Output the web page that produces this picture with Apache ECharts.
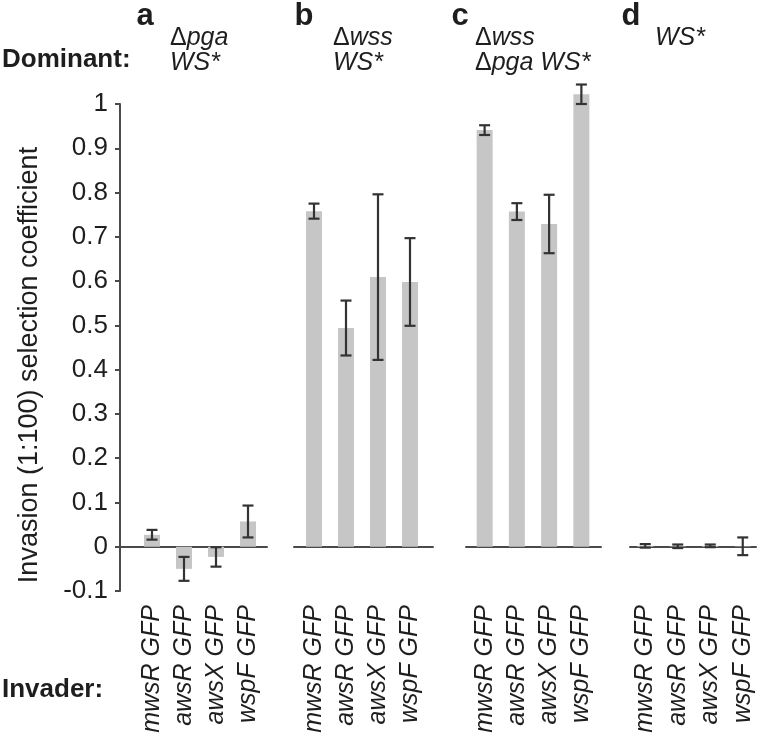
<!DOCTYPE html>
<html>
<head>
<meta charset="utf-8">
<script src="https://cdn.jsdelivr.net/npm/echarts@6/dist/echarts.min.js"></script>
<style>html,body{margin:0;padding:0;background:#fff;}#c{width:760px;height:741px;}</style>
</head>
<body>
<div id="c"></div>
<script>
// ---- data ----
const categories = ['mwsR GFP', 'awsR GFP', 'awsX GFP', 'wspF GFP'];
const panelNames = ['a', 'b', 'c', 'd'];
const meanA = [0.027, -0.050, -0.023, 0.057];
const errA  = [0.011, 0.027, 0.022, 0.036];
const meanB = [0.758, 0.494, 0.609, 0.598];
const errB  = [0.017, 0.062, 0.187, 0.099];
const meanC = [0.941, 0.757, 0.729, 1.022];
const errC  = [0.011, 0.019, 0.066, 0.022];
const meanD = [0.002, 0.001, 0.002, 0.001];
const errD  = [0.004, 0.004, 0.003, 0.020];
const yMin = -0.1, yMax = 1, yStep = 0.1;
const yTickLabels = ['-0.1', '0', '0.1', '0.2', '0.3', '0.4', '0.5', '0.6', '0.7', '0.8', '0.9', '1'];

const means = [meanA, meanB, meanC, meanD];
const errs = [errA, errB, errC, errD];

// ---- layout ----
const FONT = '"Liberation Sans", Arial, Helvetica, sans-serif';
const TOP = 104, BOTTOM = 150;
const layout = [
  { barLeft: 136,   barWidth: 128, lineLeft: 120, lineWidth: 147 },
  { barLeft: 298,   barWidth: 128, lineLeft: 294, lineWidth: 139 },
  { barLeft: 468.5, barWidth: 129, lineLeft: 466, lineWidth: 135 },
  { barLeft: 629,   barWidth: 130, lineLeft: 630, lineWidth: 126 }
];
const AXIS_COLOR = '#4a4a4a';
const TEXT_COLOR = '#1e1e1e';

const grid = [], xAxis = [], yAxis = [], series = [];

layout.forEach((L, p) => {
  // line grid (zero line, and y axis for the first panel)
  const gLine = grid.length;
  grid.push({ left: L.lineLeft, width: L.lineWidth, top: TOP, bottom: BOTTOM });
  xAxis.push({
    gridIndex: gLine, type: 'value', min: 0, max: 1,
    axisLine: { show: true, onZero: true, lineStyle: { color: AXIS_COLOR, width: 2 } },
    axisTick: { show: false }, axisLabel: { show: false }, splitLine: { show: false }
  });
  yAxis.push({
    gridIndex: gLine, type: 'value', min: yMin, max: yMax, interval: yStep,
    show: p === 0,
    axisLine: { show: true, lineStyle: { color: AXIS_COLOR, width: 2 } },
    axisTick: { show: true, inside: false, length: 5, lineStyle: { color: AXIS_COLOR, width: 2 } },
    axisLabel: {
      fontSize: 26, color: TEXT_COLOR, fontFamily: FONT, margin: 12,
      formatter: v => yTickLabels[Math.round((v - yMin) / yStep)]
    },
    splitLine: { show: false }
  });

  // bar grid
  const gBar = grid.length;
  grid.push({ left: L.barLeft, width: L.barWidth, top: TOP, bottom: BOTTOM });
  xAxis.push({
    gridIndex: gBar, type: 'category', data: categories,
    axisLine: { show: false, onZero: false }, axisTick: { show: false },
    axisLabel: {
      rotate: 90, margin: 14, fontSize: 25, fontStyle: 'italic',
      color: TEXT_COLOR, fontFamily: FONT, interval: 0
    },
    splitLine: { show: false }
  });
  yAxis.push({
    gridIndex: gBar, type: 'value', min: yMin, max: yMax, interval: yStep, show: false,
    splitLine: { show: false }
  });

  series.push({
    type: 'bar', xAxisIndex: gBar, yAxisIndex: gBar,
    data: means[p], barWidth: 16, clip: false,
    itemStyle: { color: '#c6c6c6' }, silent: true, z: 2
  });
  series.push({
    type: 'custom', xAxisIndex: gBar, yAxisIndex: gBar, clip: false, z: 3, silent: true,
    data: means[p].map((m, i) => [i, m - errs[p][i], m + errs[p][i]]),
    renderItem: (params, api) => {
      const lo = api.coord([api.value(0), api.value(1)]);
      const hi = api.coord([api.value(0), api.value(2)]);
      const cw = 5.5;
      const st = { stroke: '#333', lineWidth: 2.2, fill: null };
      return {
        type: 'group',
        children: [
          { type: 'line', shape: { x1: lo[0], y1: lo[1], x2: hi[0], y2: hi[1] }, style: st },
          { type: 'line', shape: { x1: lo[0] - cw, y1: lo[1], x2: lo[0] + cw, y2: lo[1] }, style: st },
          { type: 'line', shape: { x1: hi[0] - cw, y1: hi[1], x2: hi[0] + cw, y2: hi[1] }, style: st }
        ]
      };
    }
  });
});

// ---- text annotations ----
const rich = {
  d: { fontSize: 25, fontFamily: FONT, fill: TEXT_COLOR, fontStyle: 'normal' },
  i: { fontSize: 25, fontFamily: FONT, fill: TEXT_COLOR, fontStyle: 'italic' }
};
function label(x, y, text, opts) {
  return Object.assign({
    type: 'text', x: x, y: y,
    style: Object.assign({ text: text, fill: TEXT_COLOR, fontFamily: FONT }, opts)
  });
}
const graphics = [
  label(145, 16, panelNames[0], { fontSize: 31, fontWeight: 'bold', align: 'center', verticalAlign: 'middle' }),
  label(304, 16, panelNames[1], { fontSize: 31, fontWeight: 'bold', align: 'center', verticalAlign: 'middle' }),
  label(460, 16, panelNames[2], { fontSize: 31, fontWeight: 'bold', align: 'center', verticalAlign: 'middle' }),
  label(631, 16, panelNames[3], { fontSize: 31, fontWeight: 'bold', align: 'center', verticalAlign: 'middle' }),
  label(2, 60, 'Dominant:', { fontSize: 26, fontWeight: 'bold', verticalAlign: 'middle' }),
  label(2, 690, 'Invader:', { fontSize: 26, fontWeight: 'bold', verticalAlign: 'middle' }),
  label(170, 38, '{d|Δ}{i|pga}', { rich: rich, verticalAlign: 'middle' }),
  label(170, 63, '{i|WS*}', { rich: rich, verticalAlign: 'middle' }),
  label(333, 38, '{d|Δ}{i|wss}', { rich: rich, verticalAlign: 'middle' }),
  label(333, 63, '{i|WS*}', { rich: rich, verticalAlign: 'middle' }),
  label(475, 38, '{d|Δ}{i|wss}', { rich: rich, verticalAlign: 'middle' }),
  label(475, 63, '{d|Δ}{i|pga WS*}', { rich: rich, verticalAlign: 'middle' }),
  label(655, 38, '{i|WS*}', { rich: rich, verticalAlign: 'middle' }),
  {
    type: 'text', x: 30, y: 365, rotation: Math.PI / 2,
    style: { text: 'Invasion (1:100) selection coefficient', fontSize: 27, fontFamily: FONT,
      fill: TEXT_COLOR, align: 'center', verticalAlign: 'middle' }
  }
];

const chart = echarts.init(document.getElementById('c'), null, { renderer: 'canvas' });
chart.setOption({
  animation: false,
  backgroundColor: '#fff',
  grid: grid, xAxis: xAxis, yAxis: yAxis, series: series,
  graphic: graphics
});
</script>
</body>
</html>
